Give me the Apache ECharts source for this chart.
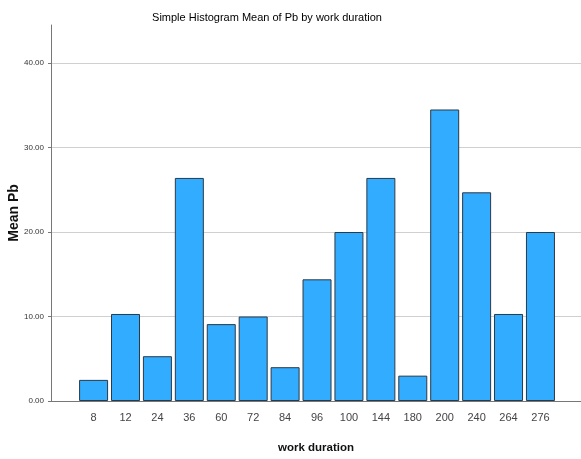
<!DOCTYPE html>
<html>
<head>
<meta charset="utf-8">
<script src="https://cdn.jsdelivr.net/npm/echarts@6/dist/echarts.min.js"></script>
<style>
	html, body { margin: 0; padding: 0; background: #fff; }
	#chart { width: 581px; height: 459px; }
</style>
</head>
<body>
<div id="chart"></div>
<script>
// 데이터
var workDuration = ['8', '12', '24', '36', '60', '72', '84', '96', '100', '144', '180', '200', '240', '264', '276'];
var meanPb = [2.5, 10.3, 5.3, 26.4, 9.1, 10.0, 4.0, 14.4, 20.0, 26.4, 3.0, 34.5, 24.7, 10.3, 20.0];
var yTicks = [0, 10, 20, 30, 40];

var baseFont = '"Liberation Sans", Arial, sans-serif';

function showPbChart() {
	var chart = echarts.init(document.getElementById('chart'));

	var barData = [];
	$each(meanPb, function(i, v) {
		barData.push([i, v]);
	});

	var option = {
	    animation: false,
	    title: {
	        text: 'Simple Histogram Mean of Pb by work duration',
	        left: 262,
	        textAlign: 'center',
	        top: 7,
	        textStyle: {
	            fontFamily: baseFont,
	            fontSize: 11,
	            fontWeight: 'normal',
	            color: '#000'
	        }
	    },
	    grid: {
	        left: 51,
	        right: 0,
	        top: 25,
	        bottom: 58,
	        outerBoundsMode: 'none'
	    },
	    xAxis: {
	        type: 'value',
	        min: -1.334,
	        max: 15.27,
	        name: 'work duration',
	        nameLocation: 'middle',
	        nameGap: 41,
	        nameMoveOverlap: false,
	        nameTextStyle: {
	            fontFamily: baseFont,
	            fontWeight: 'bold',
	            fontSize: 11.5,
	            color: '#111'
	        },
	        axisLine: { show: true, onZero: false, lineStyle: { color: '#777', width: 1 } },
	        axisTick: { show: false },
	        splitLine: { show: false },
	        axisLabel: {
	            customValues: workDuration.map(function(c, i) { return i; }),
	            formatter: function(v) { return workDuration[Math.round(v)]; },
	            fontFamily: baseFont,
	            fontSize: 11,
	            color: '#444',
	            margin: 11
	        }
	    },
	    yAxis: {
	        type: 'value',
	        min: 0,
	        max: 44.5,
	        interval: 10,
	        name: 'Mean Pb',
	        nameLocation: 'middle',
	        nameGap: 30,
	        nameMoveOverlap: false,
	        nameTextStyle: {
	            fontFamily: baseFont,
	            fontWeight: 'bold',
	            fontSize: 14,
	            color: '#111'
	        },
	        axisLine: { show: true, onZero: false, lineStyle: { color: '#777', width: 1 } },
	        axisTick: { show: true, length: 3, customValues: yTicks, lineStyle: { color: '#777' } },
	        splitLine: { show: true, showMinLine: false, lineStyle: { color: '#d0d0d0', width: 1 } },
	        axisLabel: {
	            customValues: yTicks,
	            formatter: function(v) { return v.toFixed(2); },
	            fontFamily: baseFont,
	            fontSize: 8,
	            color: '#333',
	            margin: 7
	        }
	    },
	    series: [
	        {
	            name: 'Mean Pb',
	            type: 'bar',
	            barWidth: 29,
	            data: barData,
	            itemStyle: {
	                color: '#32acfe',
	                borderColor: '#2b3a48',
	                borderWidth: 1
	            }
	        }
	    ]
	};

	chart.setOption(option);
}

// 간단한 반복 유틸
function $each(arr, fn) {
	for (var i = 0; i < arr.length; i++) fn(i, arr[i]);
}

showPbChart();
</script>
</body>
</html>
